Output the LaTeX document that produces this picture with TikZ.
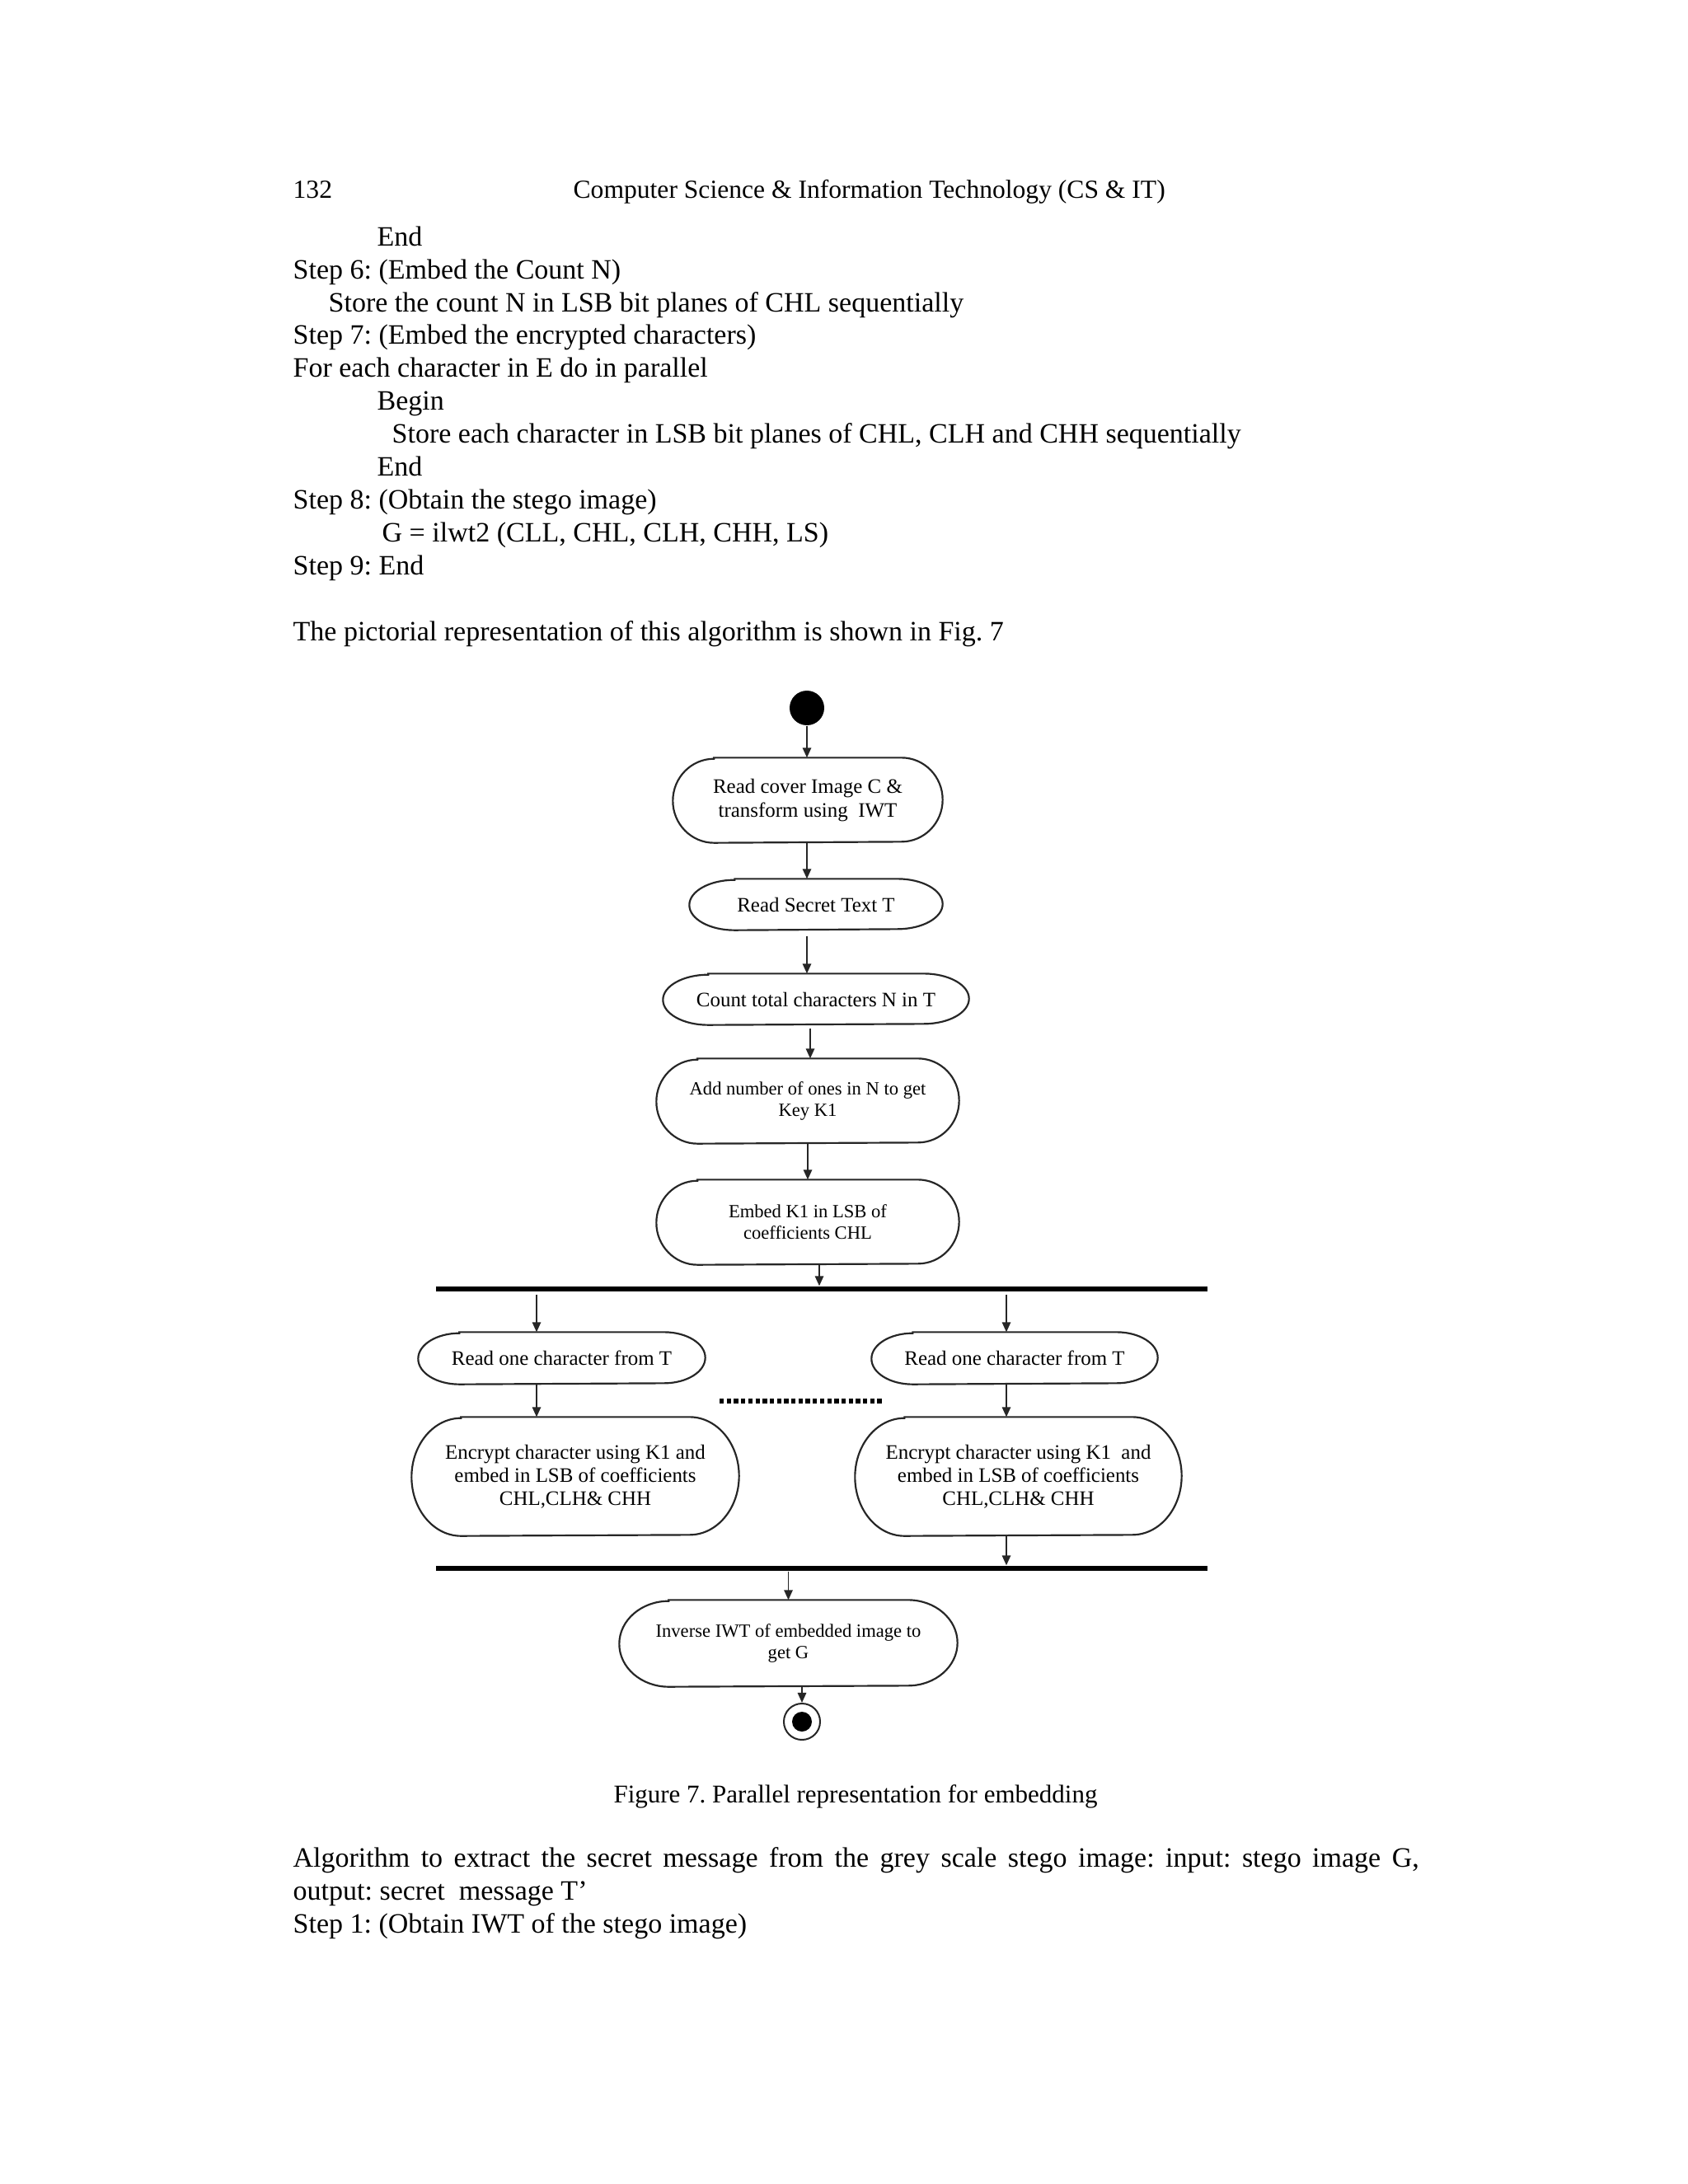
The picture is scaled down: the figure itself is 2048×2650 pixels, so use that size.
\documentclass[tikz,border=0pt]{standalone}
\usepackage{fontspec}
\setmainfont{Liberation Serif}
\usetikzlibrary{arrows.meta,calc}
\frenchspacing
\def\u{0.29883pt}
\newcommand\bodyfont{\fontsize{10.16pt}{11.9pt}\selectfont}
\newcommand\headfont{\fontsize{9.44pt}{11pt}\selectfont}
\newcommand\capfont{\fontsize{9.26pt}{11pt}\selectfont}
\newcommand\boxfontA{\fontsize{7.45pt}{8.4pt}\selectfont}
\newcommand\boxfontB{\fontsize{6.75pt}{7.7pt}\selectfont}
% outline of a stadium-shaped box: node name, end radius (px), half height (px)
\newcommand\stadium[3]{%
  \draw[outline] ($(#1.north west)+(#2,0)$) -- ($(#1.north east)+(-#2,0)$)
    arc[start angle=90,end angle=-90,x radius=#2*\u,y radius=#3*\u]
    -- ($(#1.south west)+(#2,0)$)
    arc[start angle=270,end angle=90,x radius=#2*\u,y radius=#3*\u] -- cycle;}
\tikzset{
  txt/.style={anchor=base west, inner sep=0pt, font=\bodyfont},
  box/.style={inner sep=0pt, align=center, font=\boxfontA},
  boxs/.style={inner sep=0pt, align=center, font=\boxfontB},
  outline/.style={draw=black!85, line width=0.65pt},
  arr/.style={draw=black!85, line width=0.55pt, -{Triangle[length=3.6pt,width=3.1pt]}},
  barnode/.style={fill=black, inner sep=0pt, minimum height=6*\u},
  dotline/.style={draw=black, line width=1.6pt, dash pattern=on 1.6pt off 1.0pt},
}
\begin{document}
\begin{tikzpicture}[x=\u,y=-\u]
\fill[white] (0,0) rectangle (2048,2650);
\useasboundingbox (0,0) rectangle (2048,2650);

% page text
\node[anchor=base west, inner sep=0pt, font=\headfont] (pg) at (355,240) {132};
\node[anchor=base west, inner sep=0pt, font=\headfont] (hd) at (695,240) {Computer Science \& Information Technology (CS \& IT)};
\node[txt] (t1) at (457,298) {End};
\node[txt] (t2) at (355,338) {Step 6: (Embed the Count N)};
\node[txt] (t3) at (398,378) {Store the count N in LSB bit planes of CHL sequentially};
\node[txt] (t4) at (355,417) {Step 7: (Embed the encrypted characters)};
\node[txt] (t5) at (355,457) {For each character in E do in parallel};
\node[txt] (t6) at (457,497) {Begin};
\node[txt] (t7) at (475,537) {Store each character in LSB bit planes of CHL, CLH and CHH sequentially};
\node[txt] (t8) at (457,577) {End};
\node[txt] (t9) at (355,617) {Step 8: (Obtain the stego image)};
\node[txt] (t10) at (463,657) {G = ilwt2 (CLL, CHL, CLH, CHH, LS)};
\node[txt] (t11) at (355,697) {Step 9: End};
\node[txt] (t12) at (355,777) {The pictorial representation of this algorithm is shown in Fig. 7};

% diagram
\node[circle, fill=black, inner sep=0pt, minimum size=42*\u] (start) at (979,859) {};

\node[box, minimum width=326*\u, minimum height=102*\u] (b1) at (980,971) {Read cover Image C \&\\transform using~ IWT};
\stadium{b1}{50}{51}
\node[box, minimum width=306*\u, minimum height=61*\u] (b2) at (990,1097.5) {Read Secret Text T};
\stadium{b2}{55}{30.5}
\node[box, minimum width=370*\u, minimum height=61*\u] (b3) at (990,1212.5) {Count total characters N in T};
\stadium{b3}{55}{30.5}
\node[boxs, minimum width=366*\u, minimum height=102*\u] (b4) at (980,1336) {Add number of ones in N to get\\Key K1};
\stadium{b4}{50}{51}
\node[boxs, minimum width=366*\u, minimum height=102*\u] (b5) at (980,1483) {Embed K1 in LSB of\\coefficients CHL};
\stadium{b5}{50}{51}

\node[barnode, minimum width=936*\u] (fork) at (997,1564) {};

\node[box, minimum width=347*\u, minimum height=62*\u] (L1) at (681.5,1648) {Read one character from T};
\stadium{L1}{50}{31}
\node[box, minimum width=346*\u, minimum height=62*\u] (R1) at (1231,1648) {Read one character from T};
\stadium{R1}{50}{31}

\node[box, minimum width=396*\u, minimum height=143*\u] (L2) at (698,1791.5) {Encrypt character using K1 and\\embed in LSB of coefficients\\CHL,CLH\& CHH};
\stadium{L2}{60}{71.5}
\node[box, minimum width=395*\u, minimum height=143*\u] (R2) at (1235.5,1791.5) {Encrypt character using K1~ and\\embed in LSB of coefficients\\CHL,CLH\& CHH};
\stadium{R2}{60}{71.5}

\coordinate (d1) at (873,1700);
\coordinate (d2) at (1073,1700);
\draw[dotline] (d1) -- (d2);

\node[barnode, minimum width=936*\u] (join) at (997,1903) {};

\node[boxs, minimum width=409*\u, minimum height=104*\u] (F) at (956.5,1994) {Inverse IWT of embedded image to\\get G};
\stadium{F}{60}{52}

\node[circle, draw=black!85, line width=0.6pt, inner sep=0pt, minimum size=44*\u] (end) at (973,2089) {};
\node[circle, fill=black, inner sep=0pt, minimum size=24*\u] (endin) at (end) {};

% connectors
\coordinate (cl) at (651,1570);
\coordinate (cr) at (1221,1570);
\draw[arr] (start.south) -- (start.south |- b1.north);
\draw[arr] (b1.south -| start) -- (b2.north -| start);
\draw[arr] ($(b2.south -| start)+(0,7)$) -- (b3.north -| start);
\draw[arr] ($(b3.south)+(-7,4)$) coordinate (s3) -- (s3 |- b4.north);
\draw[arr] (b4.south) -- (b5.north);
\draw[arr] ($(b5.south)+(14,0)$) coordinate (s5) -- (s5 |- fork.north);
\draw[arr] ($(fork.south -| cl)+(0,3)$) -- (L1.north -| cl);
\draw[arr] ($(fork.south -| cr)+(0,3)$) -- (R1.north -| cr);
\draw[arr] (L1.south -| cl) -- (L2.north -| cl);
\draw[arr] (R1.south -| cr) -- (R2.north -| cr);
\draw[arr] (R2.south -| cr) -- (join.north -| cr);
\draw[arr] (join.south -| F.north) -- (F.north);
\draw[arr] (F.south -| end) -- (end.north);

% caption and following text
\node[anchor=base, inner sep=0pt, font=\capfont] (cap) at (1038,2187) {Figure 7. Parallel representation for embedding};
\node[txt] (u1) at (355,2265) {\makebox[408.2pt][s]{Algorithm to extract the secret message from the grey scale stego image: input: stego image G,}};
\node[txt] (u2) at (355,2305) {output: secret\ \ message T’};
\node[txt] (u3) at (355,2345) {Step 1: (Obtain IWT of the stego image)};
\end{tikzpicture}
\end{document}
